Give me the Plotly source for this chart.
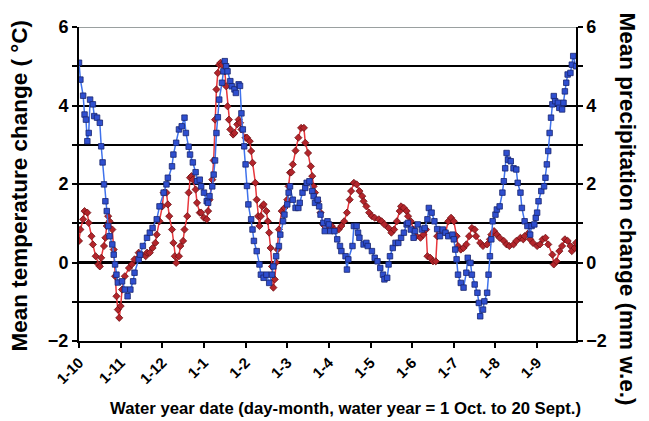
import plotly.graph_objects as go

# Day of water year (0 = 1 Oct) and mean temperature change (deg C)
temp_day = [0, 1, 3, 4, 6, 7, 9, 10, 12, 14, 15, 16, 18, 19, 20, 21, 22, 24, 25, 26,
            27, 28, 29, 30, 31, 33, 36, 38, 40, 43, 45, 48, 49, 51, 53, 55, 56, 58, 60, 61,
            63, 64, 65, 67, 68, 69, 70, 72, 73, 75, 76, 78, 79, 80, 81, 82, 84, 85, 87, 88,
            90, 92, 93, 94, 96, 97, 98, 99, 100, 101, 102, 103, 105, 106, 107, 108, 109, 111, 112, 114,
            115, 116, 117, 120, 121, 123, 124, 125, 127, 128, 129, 130, 131, 132, 133, 135, 136, 137, 138, 139,
            140, 141, 142, 143, 144, 146, 148, 150, 151, 152, 153, 154, 156, 158, 160, 162, 163, 165, 167, 168,
            169, 170, 172, 174, 176, 177, 180, 182, 184, 187, 189, 191, 193, 195, 196, 198, 200, 202, 204, 205,
            207, 209, 211, 213, 216, 218, 220, 223, 225, 227, 229, 231, 232, 234, 236, 237, 239, 241, 243, 246,
            248, 250, 251, 253, 255, 257, 258, 260, 261, 264, 266, 268, 270, 272, 273, 275, 277, 279, 281, 283,
            285, 286, 289, 291, 294, 296, 297, 299, 301, 303, 306, 308, 310, 313, 315, 318, 320, 321, 324, 325,
            327, 330, 332, 334, 336, 338, 341, 342, 344, 346, 348, 350, 352, 354, 355, 357, 358]
temp_val = [0.55, 0.84, 1.10, 1.31, 1.27, 1.01, 0.67, 0.46, 0.16, -0.05, -0.10, 0.12, 0.42, 0.63, 0.93, 1.18, 1.05, 0.84, 0.33, -0.35,
            -0.86, -1.20, -1.41, -1.11, -0.69, -0.35, -0.14, -0.05, 0.08, 0.25, 0.20, 0.16, 0.25, 0.25, 0.37, 0.50, 0.71, 1.05, 1.43, 1.78,
            1.78, 1.48, 1.18, 0.84, 0.50, 0.16, -0.01, 0.16, 0.42, 0.55, 0.84, 1.18, 1.78, 2.16, 2.20, 2.11, 1.86, 1.52, 1.27, 1.27,
            1.14, 1.10, 1.31, 1.60, 2.11, 2.60, 3.64, 4.41, 4.83, 5.04, 5.09, 5.04, 4.87, 4.49, 3.98, 3.64, 3.39, 3.26, 3.30, 3.52,
            3.64, 3.56, 3.39, 3.18, 3.18, 3.09, 2.84, 2.54, 2.03, 1.60, 1.18, 0.93, 1.18, 1.43, 1.48, 1.31, 1.05, 0.76, 0.37, -0.10,
            -0.64, -0.43, 0.00, 0.33, 0.84, 1.31, 1.39, 1.60, 1.94, 2.29, 2.30, 2.50, 2.85, 3.18, 3.43, 3.43, 3.05, 2.79, 2.45, 2.20,
            1.94, 1.78, 1.56, 1.27, 0.97, 0.93, 0.88, 0.93, 0.84, 0.84, 0.93, 1.05, 1.27, 1.60, 1.82, 2.03, 1.99, 1.82, 1.69, 1.56,
            1.43, 1.27, 1.18, 1.14, 1.10, 1.05, 0.97, 0.88, 0.76, 0.84, 1.05, 1.31, 1.43, 1.39, 1.31, 1.18, 1.05, 0.84, 0.67, 0.63,
            0.71, 0.84, 0.16, 0.12, 0.03, 0.03, 0.67, 0.76, 0.80, 0.76, 1.05, 1.14, 1.05, 0.67, 0.42, 0.33, 0.37, 0.46, 0.67, 0.88,
            0.84, 0.67, 0.50, 0.42, 0.46, 0.59, 0.71, 0.80, 0.71, 0.63, 0.55, 0.46, 0.42, 0.46, 0.55, 0.63, 0.59, 0.67, 0.76, 0.59,
            0.50, 0.42, 0.46, 0.59, 0.63, 0.46, 0.20, -0.05, 0.03, 0.29, 0.42, 0.59, 0.55, 0.42, 0.29, 0.37, 0.50]

# Day of water year and mean precipitation change (mm w.e.)
prec_day = [0, 1, 3, 4, 5, 6, 7, 8, 10, 11, 13, 15, 16, 17, 18, 19, 20, 21, 22, 24,
            25, 26, 27, 28, 31, 33, 35, 37, 39, 40, 43, 44, 46, 49, 51, 53, 56, 58, 61, 63,
            64, 67, 68, 70, 72, 74, 76, 77, 79, 80, 82, 84, 85, 87, 88, 90, 92, 93, 94, 96,
            97, 98, 99, 100, 101, 103, 104, 105, 106, 107, 109, 110, 112, 113, 115, 116, 117, 118, 119, 120,
            121, 122, 124, 125, 126, 128, 130, 131, 133, 135, 137, 139, 140, 142, 144, 145, 147, 148, 150, 151,
            152, 154, 156, 158, 159, 161, 163, 164, 166, 168, 169, 170, 172, 173, 174, 176, 177, 179, 180, 181,
            184, 186, 188, 189, 192, 193, 194, 197, 198, 200, 201, 202, 205, 207, 208, 211, 213, 215, 217, 219,
            220, 222, 223, 224, 226, 228, 230, 232, 234, 236, 237, 239, 241, 242, 244, 247, 249, 251, 252, 254,
            256, 258, 260, 262, 264, 266, 269, 270, 271, 272, 273, 275, 277, 279, 280, 282, 283, 285, 287, 288,
            289, 291, 292, 294, 295, 296, 297, 298, 300, 301, 303, 305, 306, 307, 308, 309, 311, 313, 315, 316,
            318, 319, 321, 323, 325, 326, 328, 329, 330, 331, 333, 335, 336, 337, 338, 339, 340, 341, 342, 343,
            345, 346, 348, 349, 350, 351, 352, 354, 355, 356, 358]
prec_val = [5.09, 4.66, 4.25, 3.77, 3.64, 3.09, 3.30, 4.15, 4.03, 3.73, 3.69, 3.56, 2.96, 2.55, 1.99, 1.56, 1.31, 0.93, 0.67, 0.46,
            0.20, -0.05, -0.31, -0.51, -0.48, -0.69, -0.86, -0.69, -0.48, -0.26, 0.08, 0.20, 0.42, 0.63, 0.76, 0.88, 1.10, 1.43, 1.78, 1.99,
            2.16, 2.45, 2.75, 3.05, 3.39, 3.47, 3.69, 3.30, 2.95, 2.75, 2.55, 2.30, 2.07, 2.11, 1.94, 1.78, 1.56, 1.52, 1.69, 1.94,
            2.24, 2.60, 3.30, 3.70, 4.15, 4.58, 4.87, 5.13, 5.00, 4.87, 4.62, 4.49, 4.41, 4.32, 4.54, 4.50, 3.80, 3.39, 2.96, 2.50,
            1.95, 1.48, 1.10, 0.84, 0.55, 0.29, -0.05, -0.31, -0.39, -0.31, -0.52, -0.31, -0.10, 0.16, 0.42, 0.71, 1.05, 1.22, 1.48, 1.78,
            1.94, 1.60, 1.39, 1.39, 1.52, 1.78, 1.90, 2.03, 2.07, 1.82, 1.69, 1.52, 1.60, 1.43, 1.22, 1.01, 0.80, 1.05, 0.97, 0.80,
            0.80, 0.59, 0.42, 0.29, 0.16, -0.18, 0.08, 0.42, 0.93, 0.93, 0.76, 0.63, 0.46, 0.50, 0.42, 0.29, 0.12, 0.03, -0.14, -0.31,
            -0.43, -0.39, -0.05, 0.16, 0.37, 0.50, 0.50, 0.63, 0.76, 0.97, 1.01, 0.84, 0.63, 0.80, 0.97, 0.84, 0.88, 1.10, 1.39, 1.27,
            1.05, 0.85, 0.67, 0.84, 0.76, 0.67, 0.71, 0.59, 0.33, 0.08, -0.31, -0.52, -0.64, -0.26, 0.12, -0.01, -0.31, -0.56, -0.77, -1.03,
            -1.37, -1.20, -0.99, -0.77, -0.31, 0.16, 0.59, 1.05, 1.22, 1.35, 1.43, 1.78, 2.07, 2.40, 2.79, 2.62, 2.58, 2.40, 2.37, 2.03,
            1.78, 1.39, 1.05, 0.93, 0.71, 0.93, 0.97, 1.14, 1.27, 1.56, 1.82, 1.94, 2.16, 2.50, 2.84, 3.30, 3.69, 4.03, 4.24, 4.11,
            4.07, 3.94, 3.90, 4.07, 4.36, 4.58, 4.79, 4.83, 5.04, 5.26, 5.00]

tick_days = [0, 30, 60, 90, 120, 150, 180, 210, 240, 270, 300, 330]
tick_labels = ["1-10", "1-11", "1-12", "1-1", "1-2", "1-3", "1-4", "1-5", "1-6", "1-7", "1-8", "1-9"]
y_ticks = [-2, 0, 2, 4, 6]

FONT = "Liberation Sans, Arial, sans-serif"
PW, PH = 497, 314  # plot area size in px

fig = go.Figure()
fig.add_trace(go.Scatter(
    x=temp_day, y=temp_val, mode="lines+markers", name="Temperature",
    line=dict(color="#e8373c", width=1.5),
    marker=dict(symbol="diamond", size=5.5, color="#b3252b", line=dict(color="#6e1014", width=0.8)),
))
fig.add_trace(go.Scatter(
    x=prec_day, y=prec_val, mode="lines+markers", name="Precipitation", yaxis="y2",
    line=dict(color="#3f72ec", width=1.5),
    marker=dict(symbol="square", size=5.5, color="#2f4fcf", line=dict(color="#18256e", width=0.8)),
))

axis_font = dict(family=FONT, size=18, color="black", weight="bold")

fig.update_layout(
    width=649, height=421,
    margin=dict(l=79, r=649 - 79 - PW, t=27, b=421 - 27 - PH, autoexpand=False),
    paper_bgcolor="white", plot_bgcolor="white",
    showlegend=False,
    xaxis=dict(
        range=[0, 358], tickvals=tick_days, ticktext=tick_labels, tickangle=-45,
        ticks="outside", ticklen=5, tickwidth=1.5, tickcolor="black",
        showline=True, linecolor="black", linewidth=2,
        showgrid=False, zeroline=False,
        tickfont=dict(family=FONT, size=15, color="black", weight="bold"),
    ),
    yaxis=dict(
        range=[-2, 6], tickvals=y_ticks,
        ticks="outside", ticklen=5, tickwidth=1.5, tickcolor="black",
        showline=True, linecolor="black", linewidth=2,
        showgrid=True, gridcolor="black", gridwidth=1.6,
        minor=dict(dtick=1, showgrid=True, gridcolor="black", gridwidth=1.6,
                   ticks="outside", ticklen=5, tickcolor="black"),
        zeroline=True, zerolinecolor="black", zerolinewidth=3,
        tickfont=axis_font,
    ),
    yaxis2=dict(
        range=[-2, 6], tickvals=y_ticks, overlaying="y", side="right",
        ticks="outside", ticklen=5, tickwidth=1.5, tickcolor="black",
        showline=True, linecolor="black", linewidth=1.5,
        showgrid=False, zeroline=False,
        minor=dict(dtick=1, ticks="outside", ticklen=5, tickcolor="black", showgrid=False),
        tickfont=axis_font,
    ),
    shapes=[dict(type="line", xref="paper", yref="y", x0=0, x1=1, y0=6, y1=6,
                 line=dict(color="#9aa0a0", width=2), layer="above")],
    annotations=[
        dict(text="Mean temperature change ( °C)", xref="paper", yref="paper",
             x=(19 - 79) / PW, y=(341.5 - 186) / PH, textangle=-90, showarrow=False,
             xanchor="center", yanchor="middle",
             font=dict(family=FONT, size=22.5, color="black", weight="bold")),
        dict(text="Mean precipitation change (mm w.e.)", xref="paper", yref="paper",
             x=(627 - 79) / PW, y=(341.5 - 209) / PH, textangle=90, showarrow=False,
             xanchor="center", yanchor="middle",
             font=dict(family=FONT, size=22.5, color="black", weight="bold")),
        dict(text="Water year date (day-month, water year = 1 Oct. to 20 Sept.)", xref="paper", yref="paper",
             x=(345 - 79) / PW, y=-(409 - 341.5) / PH, showarrow=False, xanchor="center", yanchor="middle",
             font=dict(family=FONT, size=16.7, color="black", weight="bold")),
    ],
)

fig.write_html("out.html", config={"displayModeBar": False},
               post_script="document.body.style.margin='0px';document.body.style.padding='0px';")
